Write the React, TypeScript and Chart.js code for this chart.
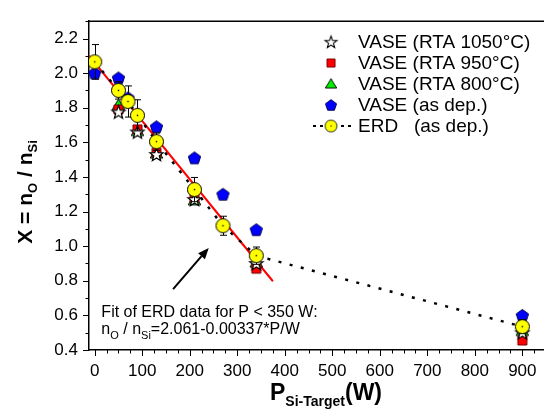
import { useEffect, useRef } from "react";
import { Chart, registerables } from "chart.js";

Chart.register(...registerables);

const FONT = "'Liberation Sans', Arial, Helvetica, sans-serif";

// ---------- data ----------
const ERD_POWER = [0, 50, 70, 90, 130, 210, 270, 340, 900];
const ERD_X = [2.065, 1.9, 1.836, 1.756, 1.604, 1.327, 1.118, 0.945, 0.535];
const ERD_ERR = [0.1, 0.05, 0.09, 0.09, 0.05, 0.07, 0.055, 0.05, 0.04];

const ASDEP_POWER = [0, 50, 70, 130, 210, 270, 340, 900];
const ASDEP_X = [2.0, 1.972, 1.857, 1.69, 1.51, 1.3, 1.095, 0.6];

const RTA_POWER = [50, 90, 130, 210, 340, 900];
const RTA800_X = [1.815, 1.665, 1.535, 1.265, 0.905, 0.51];
const RTA950_X = [1.79, 1.675, 1.54, 1.28, 0.87, 0.455];
const RTA1050_X = [1.775, 1.66, 1.53, 1.27, 0.9, 0.5];

const FIT_INTERCEPT = 2.061;
const FIT_SLOPE = -0.00337;
const FIT_RANGE = [-12, 375];

const X_MIN = -12;
const X_MAX = 954;
const Y_MIN = 0.4;
const Y_MAX = 2.3;
const X_TICKS = [0, 100, 200, 300, 400, 500, 600, 700, 800, 900];
const Y_TICKS = [0.4, 0.6, 0.8, 1.0, 1.2, 1.4, 1.6, 1.8, 2.0, 2.2];
const X_MINOR_STEP = 25;
const Y_MINOR_STEP = 0.1;

const LEGEND_LABELS = [
  "VASE (RTA 1050°C)",
  "VASE (RTA 950°C)",
  "VASE (RTA 800°C)",
  "VASE (as dep.)",
  "ERD   (as dep.)",
];

const ANNOT_LINE1 = "Fit of ERD data for P < 350 W:";
const ANNOT_LINE2_TAIL = "=2.061-0.00337*P/W";
// annotation anchor positions in data units
const ANNOT_TEXT_AT = [14, 0.593];
const ANNOT_LINE_GAP = 0.102;
const ARROW_FROM = [165, 0.752];
const ARROW_TO = [240, 0.99];

type Kind = "star" | "square" | "triangle" | "pentagon" | "circle";

function makeMarker(kind: Kind): HTMLCanvasElement {
  const size = 19;
  const c = document.createElement("canvas");
  c.width = size;
  c.height = size;
  const ctx = c.getContext("2d")!;
  const cx = size / 2;
  const cy = size / 2;
  ctx.lineWidth = 1;
  ctx.strokeStyle = "#000";
  ctx.beginPath();
  if (kind === "star") {
    const R = 7;
    const r = 2.9;
    for (let i = 0; i < 10; i++) {
      const rad = i % 2 === 0 ? R : r;
      const a = -Math.PI / 2 + (i * Math.PI) / 5;
      const x = cx + rad * Math.cos(a);
      const y = cy + 0.5 + rad * Math.sin(a);
      if (i === 0) ctx.moveTo(x, y);
      else ctx.lineTo(x, y);
    }
    ctx.closePath();
    ctx.fillStyle = "#fff";
    ctx.fill();
    ctx.lineWidth = 1.2;
    ctx.stroke();
  } else if (kind === "square") {
    ctx.rect(cx - 4.5, cy - 4.5, 9, 9);
    ctx.fillStyle = "#ff0000";
    ctx.fill();
    ctx.strokeStyle = "#700000";
    ctx.stroke();
  } else if (kind === "triangle") {
    ctx.moveTo(cx, cy - 6);
    ctx.lineTo(cx + 6.3, cy + 4.5);
    ctx.lineTo(cx - 6.3, cy + 4.5);
    ctx.closePath();
    ctx.fillStyle = "#00ee00";
    ctx.fill();
    ctx.stroke();
  } else if (kind === "pentagon") {
    const R = 6.5;
    for (let i = 0; i < 5; i++) {
      const a = -Math.PI / 2 + (i * 2 * Math.PI) / 5;
      const x = cx + R * Math.cos(a);
      const y = cy + 0.5 + R * Math.sin(a);
      if (i === 0) ctx.moveTo(x, y);
      else ctx.lineTo(x, y);
    }
    ctx.closePath();
    ctx.fillStyle = "#0000ff";
    ctx.fill();
    ctx.strokeStyle = "#000050";
    ctx.stroke();
  } else {
    ctx.arc(cx, cy, 7, 0, Math.PI * 2);
    ctx.fillStyle = "#ffff00";
    ctx.fill();
    ctx.stroke();
    ctx.fillStyle = "#000";
    ctx.fillRect(cx - 0.7, cy - 0.7, 1.4, 1.4);
  }
  return c;
}

function pts(xs: number[], ys: number[]) {
  return xs.map((x, i) => ({ x, y: ys[i] }));
}

export default function App() {
  const ref = useRef<HTMLCanvasElement | null>(null);

  useEffect(() => {
    if (!ref.current) return;
    const markers = {
      star: makeMarker("star"),
      square: makeMarker("square"),
      triangle: makeMarker("triangle"),
      pentagon: makeMarker("pentagon"),
      circle: makeMarker("circle"),
    };

    const overlay = {
      id: "overlay",
      beforeDatasetDraw(chart: any, args: any) {
        const ds = chart.data.datasets[args.index];
        if (ds.label !== "ERD points") return;
        const ctx = chart.ctx;
        const xs = chart.scales.x;
        const ys = chart.scales.y;
        ctx.save();
        ctx.strokeStyle = "#000";
        ctx.lineWidth = 1;
        ERD_POWER.forEach((p, i) => {
          const px = Math.round(xs.getPixelForValue(p)) + 0.5;
          const top = ys.getPixelForValue(ERD_X[i] + ERD_ERR[i]);
          const bot = ys.getPixelForValue(ERD_X[i] - ERD_ERR[i]);
          ctx.beginPath();
          ctx.moveTo(px, top);
          ctx.lineTo(px, bot);
          ctx.moveTo(px - 3.5, top);
          ctx.lineTo(px + 3.5, top);
          ctx.moveTo(px - 3.5, bot);
          ctx.lineTo(px + 3.5, bot);
          ctx.stroke();
        });
        ctx.restore();
      },
      afterDraw(chart: any) {
        const ctx = chart.ctx as CanvasRenderingContext2D;
        const ca = chart.chartArea;
        const xs = chart.scales.x;
        const ys = chart.scales.y;
        ctx.save();
        // top frame
        ctx.strokeStyle = "#000";
        ctx.lineWidth = 1.5;
        ctx.beginPath();
        ctx.moveTo(ca.left, ca.top);
        ctx.lineTo(ca.right, ca.top);
        ctx.stroke();
        // ticks
        ctx.lineWidth = 1;
        ctx.beginPath();
        for (let v = 0; v <= X_MAX; v += X_MINOR_STEP) {
          const px = Math.round(xs.getPixelForValue(v)) + 0.5;
          const len = v % 100 === 0 ? 6 : 3.5;
          ctx.moveTo(px, ca.bottom);
          ctx.lineTo(px, ca.bottom + len);
        }
        const nY = Math.round((Y_MAX - Y_MIN) / Y_MINOR_STEP);
        for (let i = 0; i <= nY; i++) {
          const v = Y_MIN + i * Y_MINOR_STEP;
          const py = Math.round(ys.getPixelForValue(v)) + 0.5;
          const len = i % 2 === 0 ? 6 : 3.5;
          ctx.moveTo(ca.left, py);
          ctx.lineTo(ca.left - len, py);
        }
        ctx.stroke();

        ctx.fillStyle = "#000";
        ctx.textBaseline = "alphabetic";
        ctx.textAlign = "left";

        // Y title (rotated, with subscripts)
        const yParts: [string, number, number][] = [
          ["X = n", 21, 0],
          ["O", 13, 5],
          [" / n", 21, 0],
          ["Si", 13, 5],
        ];
        const measure = (parts: [string, number, number][]) =>
          parts.reduce((s, [t, sz]) => {
            ctx.font = `bold ${sz}px ${FONT}`;
            return s + ctx.measureText(t).width;
          }, 0);
        const drawParts = (parts: [string, number, number][], x0: number) => {
          let x = x0;
          parts.forEach(([t, sz, dy]) => {
            ctx.font = `bold ${sz}px ${FONT}`;
            ctx.fillText(t, x, dy);
            x += ctx.measureText(t).width;
          });
        };
        ctx.save();
        ctx.translate(32, 192);
        ctx.rotate(-Math.PI / 2);
        drawParts(yParts, -measure(yParts) / 2);
        ctx.restore();

        // X title
        const xParts: [string, number, number][] = [
          ["P", 23, 0],
          ["Si-Target", 14, 6],
          ["(W)", 23, 0],
        ];
        ctx.save();
        ctx.translate(326, 400);
        drawParts(xParts, -measure(xParts) / 2);
        ctx.restore();

        // Legend
        const rows = [42, 63, 84, 105, 126];
        const icons = [markers.star, markers.square, markers.triangle, markers.pentagon, markers.circle];
        ctx.font = `19px ${FONT}`;
        ctx.textBaseline = "middle";
        rows.forEach((ry, i) => {
          if (i === 4) {
            ctx.save();
            ctx.setLineDash([3, 4]);
            ctx.lineWidth = 2;
            ctx.beginPath();
            ctx.moveTo(313, ry);
            ctx.lineTo(352, ry);
            ctx.stroke();
            ctx.restore();
          }
          const ic = icons[i];
          const sc = i === 4 ? 0.85 : 0.9;
          const w = ic.width * sc;
          const h = ic.height * sc;
          ctx.drawImage(ic, 331 - w / 2, ry - h / 2, w, h);
          ctx.fillText(LEGEND_LABELS[i], 358, ry + 1);
        });

        // Annotation text
        ctx.textBaseline = "alphabetic";
        const ax = xs.getPixelForValue(ANNOT_TEXT_AT[0]);
        const ay1 = ys.getPixelForValue(ANNOT_TEXT_AT[1]);
        const ay2 = ys.getPixelForValue(ANNOT_TEXT_AT[1] - ANNOT_LINE_GAP);
        ctx.font = `16px ${FONT}`;
        ctx.fillText(ANNOT_LINE1, ax, ay1);
        let tx = ax;
        const l2: [string, number, number][] = [
          ["n", 16, 0],
          ["O", 11, 5],
          [" / n", 16, 0],
          ["Si", 11, 5],
          [ANNOT_LINE2_TAIL, 16, 0],
        ];
        l2.forEach(([t, sz, dy]) => {
          ctx.font = `${sz}px ${FONT}`;
          ctx.fillText(t, tx, ay2 + dy);
          tx += ctx.measureText(t).width;
        });

        // Arrow
        const x1 = xs.getPixelForValue(ARROW_FROM[0]);
        const y1 = ys.getPixelForValue(ARROW_FROM[1]);
        const x2 = xs.getPixelForValue(ARROW_TO[0]);
        const y2 = ys.getPixelForValue(ARROW_TO[1]);
        const ang = Math.atan2(y2 - y1, x2 - x1);
        const hl = 11;
        const hw = 4.5;
        const bx = x2 - hl * Math.cos(ang);
        const by = y2 - hl * Math.sin(ang);
        ctx.lineWidth = 2;
        ctx.beginPath();
        ctx.moveTo(x1, y1);
        ctx.lineTo(bx, by);
        ctx.stroke();
        ctx.beginPath();
        ctx.moveTo(x2, y2);
        ctx.lineTo(bx + hw * Math.sin(ang), by - hw * Math.cos(ang));
        ctx.lineTo(bx - hw * Math.sin(ang), by + hw * Math.cos(ang));
        ctx.closePath();
        ctx.fill();

        ctx.restore();
      },
    };

    const fitData = FIT_RANGE.map((p) => ({ x: p, y: FIT_INTERCEPT + FIT_SLOPE * p }));

    const chart = new Chart(ref.current, {
      type: "scatter",
      data: {
        datasets: [
          {
            label: "ERD points",
            data: pts(ERD_POWER, ERD_X),
            pointStyle: markers.circle as any,
            pointRadius: 7,
            showLine: false,
          },
          {
            label: LEGEND_LABELS[0],
            data: pts(RTA_POWER, RTA1050_X),
            pointStyle: markers.star as any,
            pointRadius: 7,
          },
          {
            label: LEGEND_LABELS[1],
            data: pts(RTA_POWER, RTA950_X),
            pointStyle: markers.square as any,
            pointRadius: 7,
          },
          {
            label: LEGEND_LABELS[2],
            data: pts(RTA_POWER, RTA800_X),
            pointStyle: markers.triangle as any,
            pointRadius: 7,
          },
          {
            label: LEGEND_LABELS[3],
            data: pts(ASDEP_POWER, ASDEP_X),
            pointStyle: markers.pentagon as any,
            pointRadius: 7,
          },
          {
            label: "ERD line",
            data: pts(ERD_POWER, ERD_X),
            showLine: true,
            pointRadius: 0,
            borderColor: "#000",
            borderWidth: 2.5,
            borderDash: [3, 8.5],
            fill: false,
          } as any,
          {
            label: "Fit",
            data: fitData,
            showLine: true,
            pointRadius: 0,
            borderColor: "#ff0000",
            borderWidth: 2,
            fill: false,
          } as any,
        ],
      },
      options: {
        animation: false,
        responsive: false,
        layout: { padding: { top: 15, left: 0, right: 0, bottom: 0 } },
        plugins: {
          legend: { display: false },
          tooltip: { enabled: false },
        },
        scales: {
          x: {
            type: "linear",
            min: X_MIN,
            max: X_MAX,
            afterBuildTicks: (s: any) => {
              s.ticks = X_TICKS.map((value) => ({ value }));
            },
            afterFit: (s: any) => {
              s.height = 60;
            },
            grid: { display: false, drawTicks: false },
            border: { display: true, color: "#000", width: 1.5 },
            ticks: {
              autoSkip: false,
              maxRotation: 0,
              padding: 11,
              color: "#000",
              font: { family: FONT, size: 17 },
              callback: (v: any) => String(v),
            },
          },
          y: {
            type: "linear",
            min: Y_MIN,
            max: Y_MAX,
            afterBuildTicks: (s: any) => {
              s.ticks = Y_TICKS.map((value) => ({ value }));
            },
            afterFit: (s: any) => {
              s.width = 89;
            },
            grid: { display: false, drawTicks: false },
            border: { display: true, color: "#000", width: 1.5 },
            ticks: {
              autoSkip: false,
              padding: 11,
              color: "#000",
              font: { family: FONT, size: 17 },
              callback: (v: any) => Number(v).toFixed(1),
            },
          },
        },
      },
      plugins: [overlay],
    });
    return () => chart.destroy();
  }, []);

  return (
    <div
      style={{
        position: "fixed",
        left: 0,
        top: 0,
        width: 544,
        height: 410,
        overflow: "hidden",
        background: "#fff",
      }}
    >
      <canvas ref={ref} width={556} height={410} style={{ display: "block", width: 556, height: 410 }} />
    </div>
  );
}
